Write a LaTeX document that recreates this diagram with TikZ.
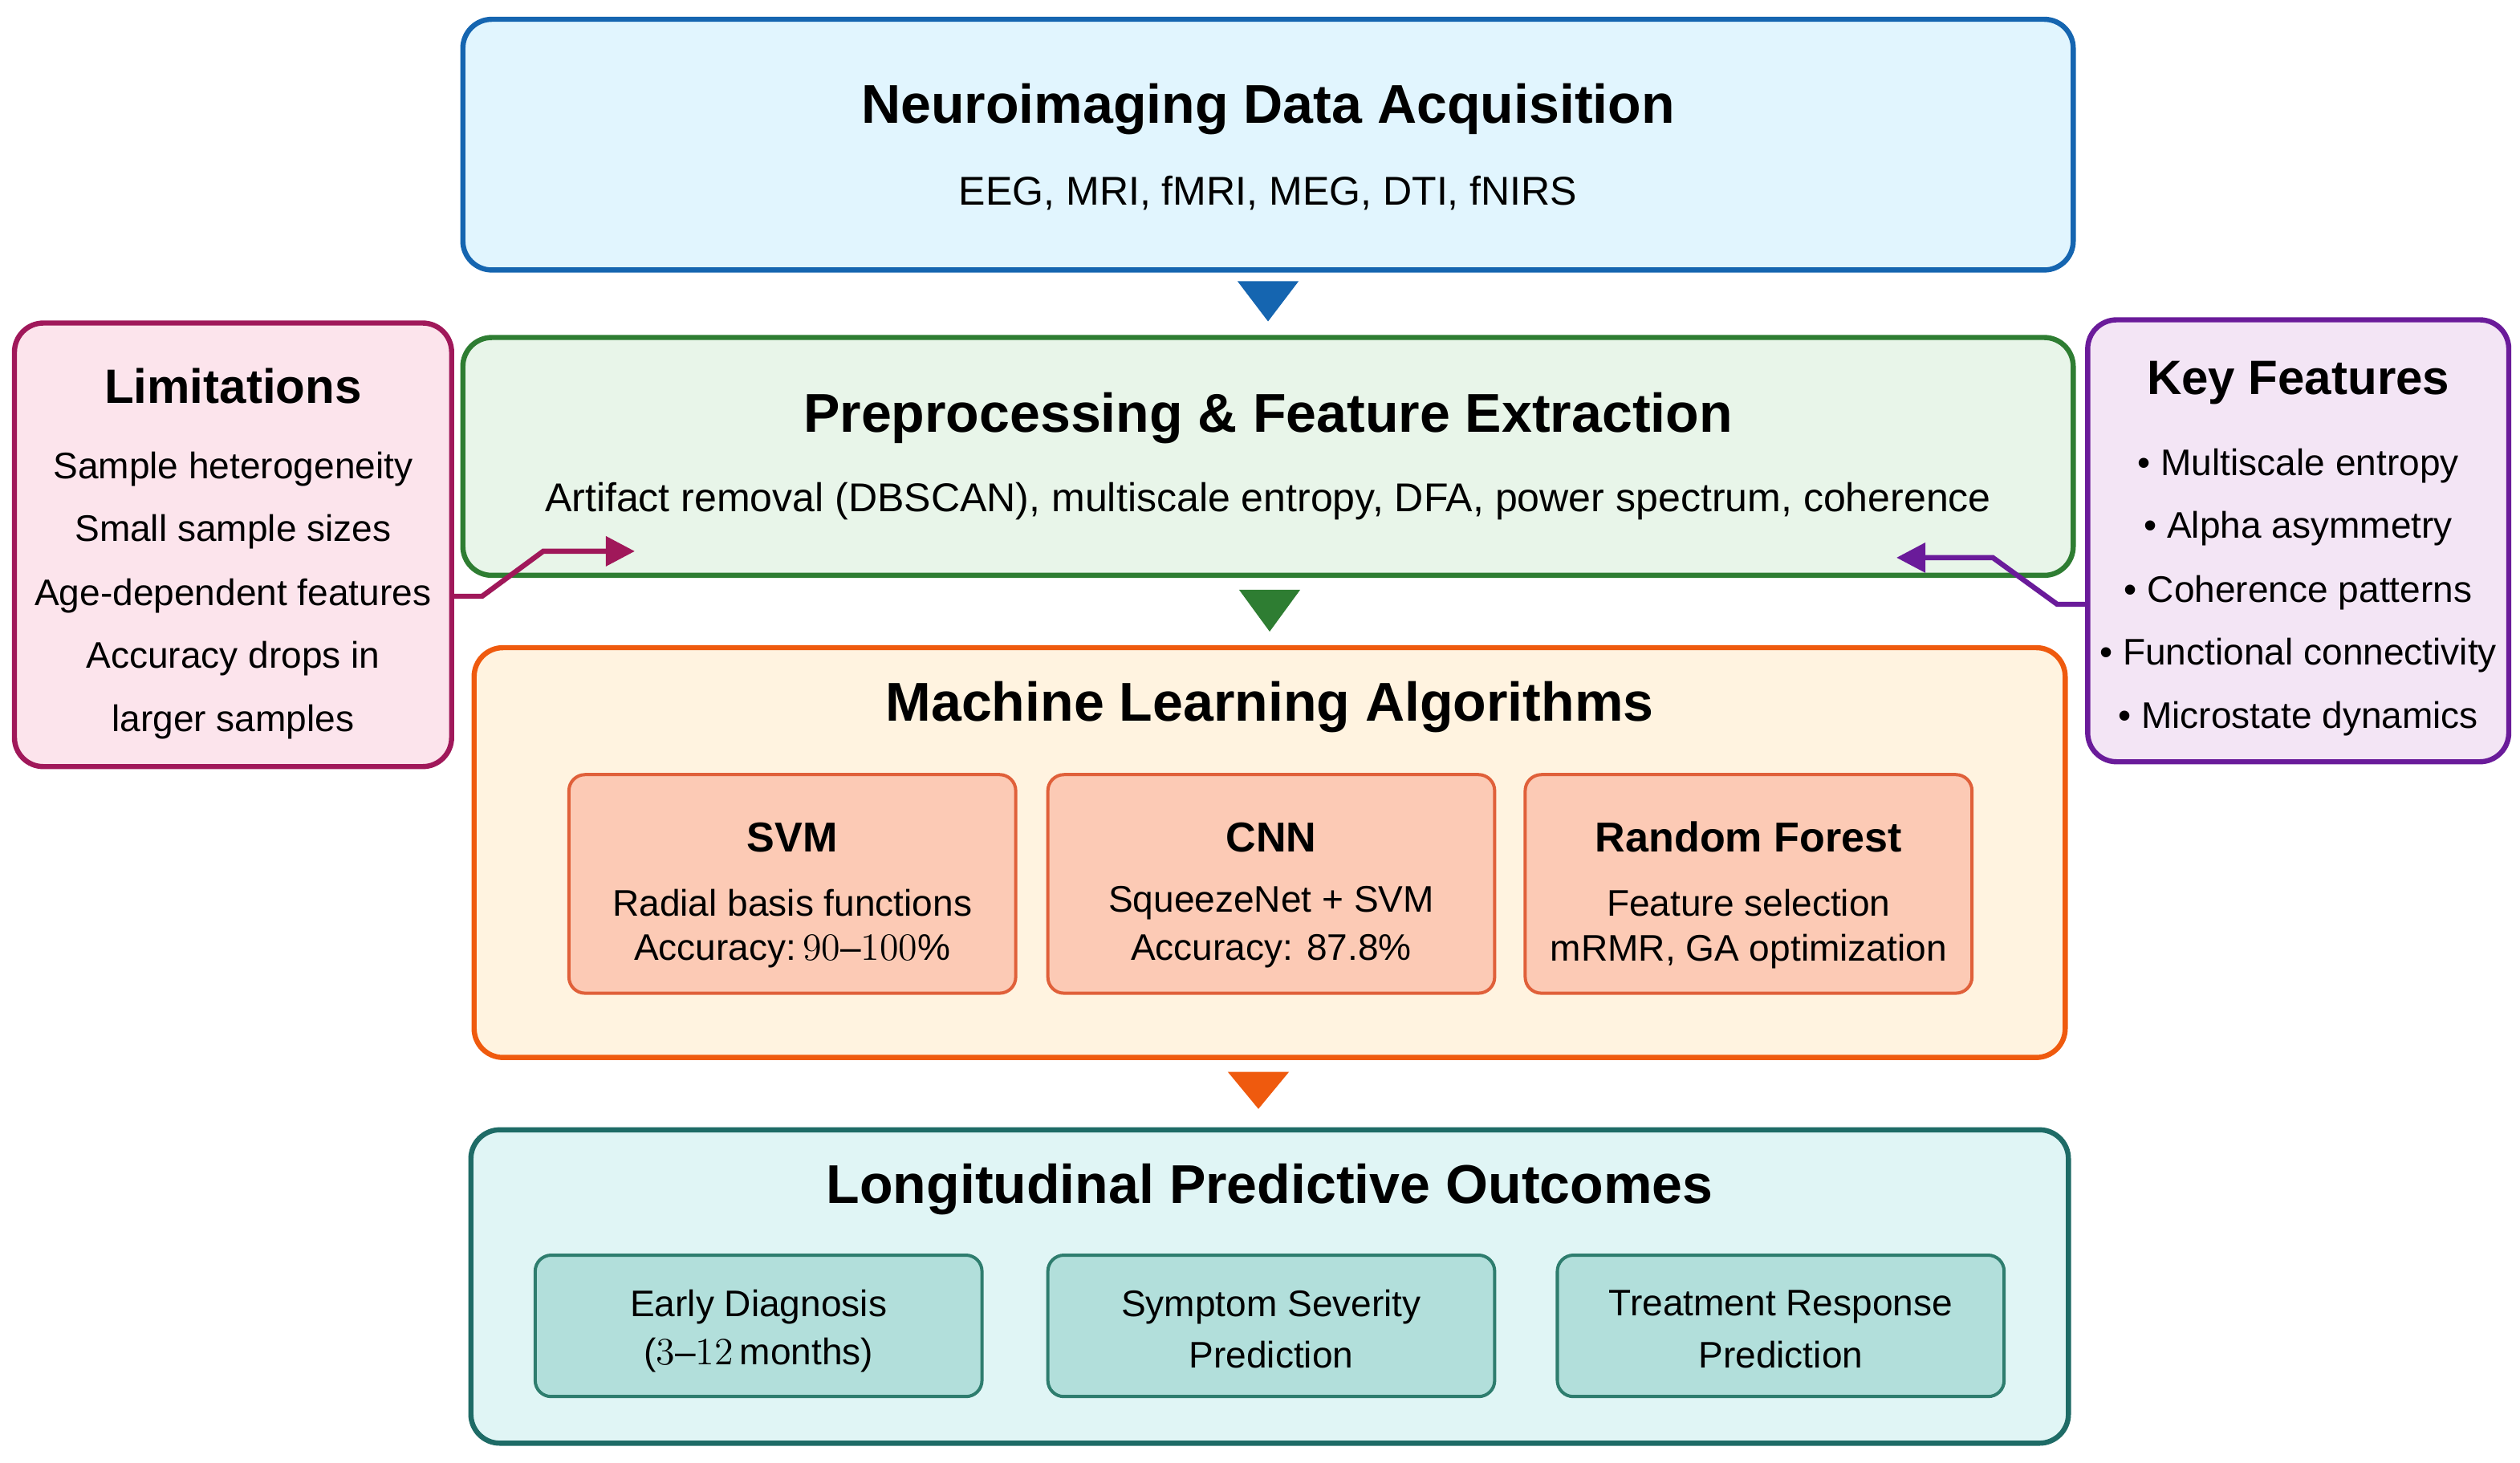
\documentclass[tikz,border=0pt]{standalone}
\usepackage{fontspec}
\setmainfont{Liberation Sans}
\usetikzlibrary{arrows.meta}
\definecolor{bA}{HTML}{1565B0}\definecolor{fA}{HTML}{E1F5FE}
\definecolor{bB}{HTML}{2E7D32}\definecolor{fB}{HTML}{E8F5E9}
\definecolor{bC}{HTML}{EF5A0E}\definecolor{fC}{HTML}{FFF3E0}
\definecolor{bCs}{HTML}{E0603A}\definecolor{fCs}{HTML}{FCCAB5}
\definecolor{bD}{HTML}{1E6B66}\definecolor{fD}{HTML}{E0F5F5}
\definecolor{bDs}{HTML}{2E7D6E}\definecolor{fDs}{HTML}{B2DFDB}
\definecolor{bL}{HTML}{A0185A}\definecolor{fL}{HTML}{FCE4EC}
\definecolor{bK}{HTML}{6A1B9A}\definecolor{fK}{HTML}{F3E5F5}
\begin{document}
\begin{tikzpicture}[x=0.5pt,y=-0.5pt,
 box/.style={draw=#1,line width=1.6pt,rounded corners=9pt},
 sub/.style={draw=#1,line width=1pt,rounded corners=5pt},
 ttl/.style={font=\fontsize{17}{20}\selectfont\bfseries},
 stl/.style={font=\fontsize{13}{15}\selectfont\bfseries},
 txt/.style={font=\fontsize{12.5}{15}\selectfont},
 btxt/.style={font=\fontsize{11.5}{14}\selectfont},
 tri/.style={fill=#1}]
\useasboundingbox (0,0) rectangle (1568,910);
\draw[box=bA,fill=fA] (288,12) rectangle (1290,168);
\node[ttl] (t1) at (789,68) {Neuroimaging Data Acquisition};
\node[txt] (s1) at (789,120) {EEG, MRI, fMRI, MEG, DTI, fNIRS};
\fill[bA] (770,175) -- (808,175) -- (789,200) -- cycle;
\draw[box=bB,fill=fB] (288,210) rectangle (1290,358);
\node[ttl] (t2) at (789,260) {Preprocessing \& Feature Extraction};
\node[txt] (s2) at (789,312) {Artifact removal (DBSCAN), multiscale entropy, DFA, power spectrum, coherence};
\fill[bB] (771,367) -- (809,367) -- (790,393) -- cycle;
\draw[box=bC,fill=fC] (295,403) rectangle (1285,658);
\node[ttl] (t3) at (790,440) {Machine Learning Algorithms};
\foreach \x/\n/\a/\b [count=\i] in {354/SVM/Radial basis functions/{Accuracy:\,$90$--$100\%$},652/CNN/SqueezeNet + SVM/Accuracy: 87.8\%,949/Random Forest/Feature selection/{mRMR, GA optimization}}{
 \draw[sub=bCs,fill=fCs] (\x,482) rectangle (\x+278,618);
 \node[stl] (m\i) at (\x+139,521) {\n};
 \node[btxt] (ma\i) at (\x+139,562) {\a};
 \node[btxt] (mb\i) at (\x+139,592) {\b};}
\fill[bC] (764,667) -- (802,667) -- (783,690) -- cycle;
\draw[box=bD,fill=fD] (293,703) rectangle (1287,898);
\node[ttl] (t4) at (790,740) {Longitudinal Predictive Outcomes};
\foreach \x/\a/\b [count=\i] in {333/Early Diagnosis/{($3$--$12$\,months)},652/Symptom Severity/Prediction,969/Treatment Response/Prediction}{
 \draw[sub=bDs,fill=fDs] (\x,781) rectangle (\x+278,869);
 \node[btxt] (oa\i) at (\x+139,813) {\a};
 \node[btxt] (ob\i) at (\x+139,843) {\b};}
\draw[box=bL,fill=fL] (9,201) rectangle (281,477);
\node[stl,font=\fontsize{15}{18}\selectfont\bfseries] (lt) at (145,240) {Limitations};
\foreach \y/\t in {292/Sample heterogeneity,331/Small sample sizes,371/Age-dependent features,410/Accuracy drops in,449/larger samples}
 \node[btxt] at (145,\y) {\ifx\t\empty\else\fi\t};
\draw[box=bK,fill=fK] (1299,199) rectangle (1561,474);
\node[stl,font=\fontsize{15}{18}\selectfont\bfseries] (kt) at (1430,238) {Key Features};
\foreach \y/\t in {290/Multiscale entropy,329/Alpha asymmetry,369/Coherence patterns,408/Functional connectivity,447/Microstate dynamics}
 \node[btxt] at (1430,\y) {\textbullet\ \t};
\coordinate (la) at (281,371); \coordinate (lb) at (395,343);
\draw[bL,line width=1.6pt,-{Triangle[length=9pt,width=9pt]}] (la) -- (300,371) -- (338,343) -- (lb);
\coordinate (ra) at (1299,376); \coordinate (rb) at (1180,347);
\draw[bK,line width=1.6pt,-{Triangle[length=9pt,width=9pt]}] (ra) -- (1280,376) -- (1240,347) -- (rb);
\end{tikzpicture}
\end{document}
